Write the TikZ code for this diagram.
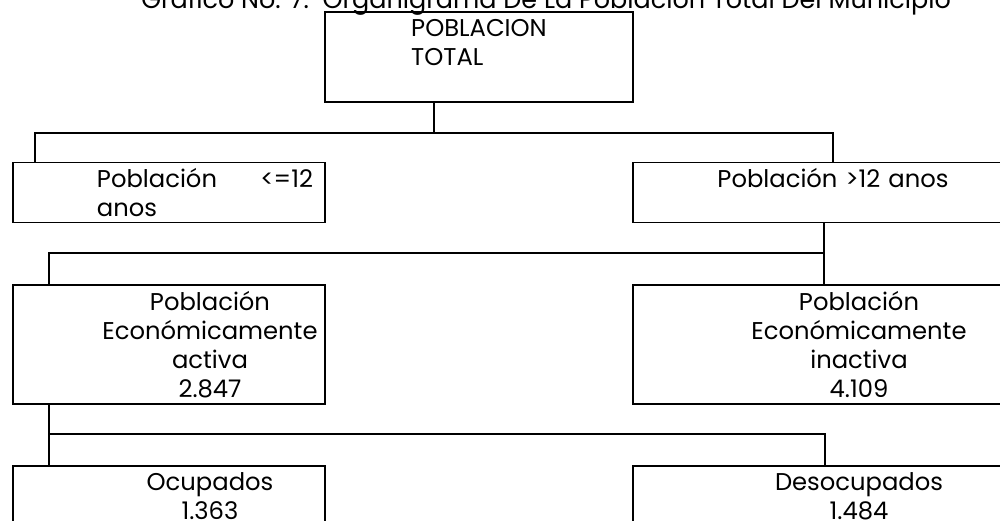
\documentclass[tikz,border=0pt]{standalone}
\usepackage{fontspec}
\setmainfont{Poppins}

\begin{document}
\begin{tikzpicture}[
    box/.style={rectangle, draw, line width=1.1pt, inner sep=0pt, font=\fontsize{13.8}{16.5}\selectfont},
    link/.style={line width=1.1pt},
    pad/.style 2 args={execute at begin node={\advance\leftskip#1\relax\advance\rightskip#2\relax}},
    titulo/.style={font=\fontsize{14.5}{17}\selectfont, inner sep=0pt}
]
\path[use as bounding box, clip] (0,0) rectangle (20,-10.42);

% Titulo
\node[titulo, anchor=base west] (titulo) at (2.82,-0.18) {Gráfico No. 7.\ \ Organigrama De La Población Total Del Municipio};

% Cajas
\node[box, align=left, minimum width=6.16cm, minimum height=1.8cm] (total) at (9.58,-1.14) {POBLACION\\TOTAL\\\mbox{}};
\node[box, text width=6.24cm, align=left, minimum height=1.2cm, pad={1.68cm}{0.24cm}] (menores) at (3.38,-3.85) {Población\hfill <=12\\anos};
\node[box, text width=8cm, align=center, minimum height=1.2cm] (mayores) at (16.66,-3.85) {Población >12 anos\\\mbox{}};
\node[box, text width=6.24cm, align=center, minimum height=2.38cm, pad={1.64cm}{0cm}] (activa) at (3.38,-6.89) {Población\\Económicamente\\activa\\2.847};
\node[box, text width=9.04cm, align=center, minimum height=2.38cm] (inactiva) at (17.18,-6.89) {Población\\Económicamente\\inactiva\\4.109};
\node[box, text width=6.24cm, align=center, minimum height=1.2cm, pad={1.64cm}{0cm}] (ocupados) at (3.38,-9.92) {Ocupados\\1.363};
\node[box, text width=9.04cm, align=center, minimum height=1.2cm] (desocupados) at (17.18,-9.92) {Desocupados\\1.484};

% Conexiones
\coordinate (r1) at (8.68,-2.66);
\coordinate (r2) at (16.48,-5.06);
\coordinate (r3) at (0.98,-8.68);
\draw[link] (total.south -| r1) -- (r1);
\draw[link] (menores.north -| 0.7,0) |- (r1) -| (mayores.north);
\draw[link] (mayores.south -| r2) -- (inactiva.north -| r2);
\draw[link] (activa.north -| r3) |- (r2);
\draw[link] (activa.south -| r3) -- (ocupados.north -| r3);
\draw[link] (r3) -| (desocupados.north -| 16.5,0);

\end{tikzpicture}
\end{document}
